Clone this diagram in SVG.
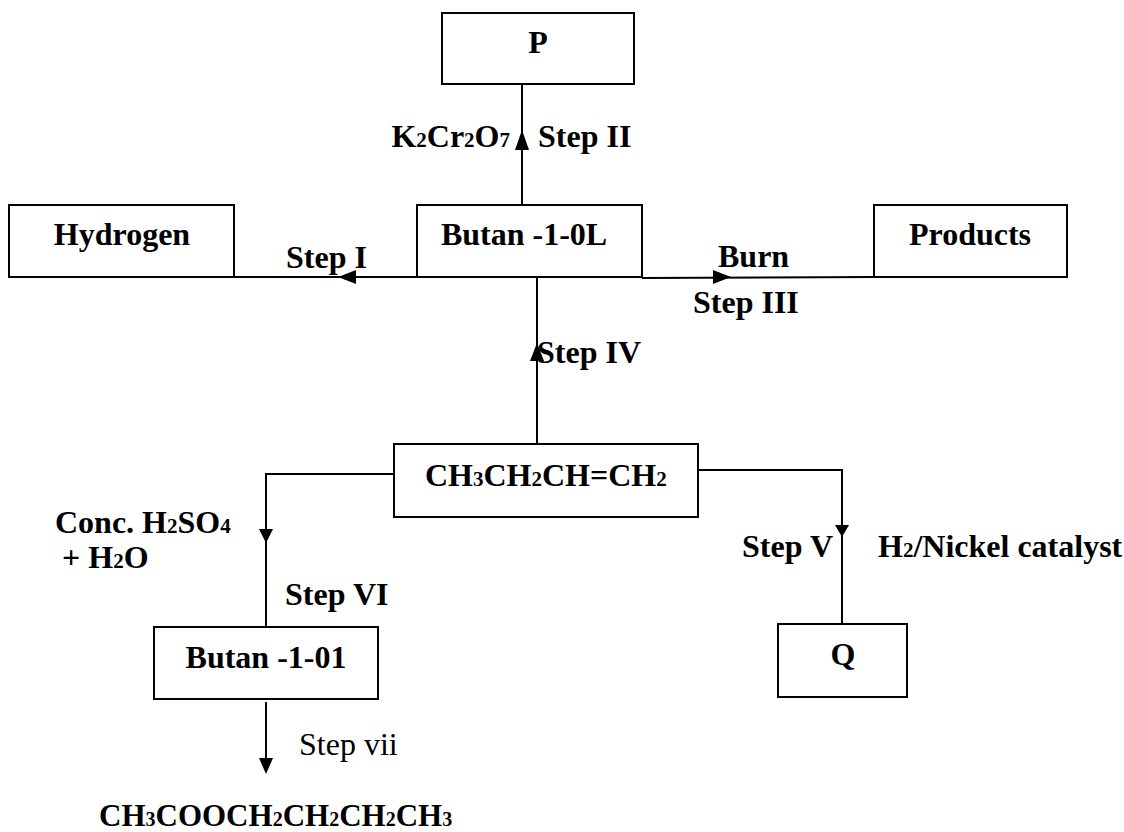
<svg xmlns="http://www.w3.org/2000/svg" width="1124" height="832" viewBox="0 0 1124 832">
<style>
.box{fill:#fff;stroke:#000;stroke-width:2}
.ln{fill:none;stroke:#000;stroke-width:2}
.ah{fill:#000;stroke:none}
text{font-family:"Liberation Serif","Times New Roman",serif;font-size:32px;font-weight:bold;fill:#000}
.n{font-weight:normal}
.s{font-size:21px}
.c{text-anchor:middle}
.e{text-anchor:end}
</style>
<rect width="1124" height="832" fill="#fff"/>
<g id="connectors">
<line class="ln" x1="522" y1="205" x2="522" y2="84"/>
<polygon class="ah" points="522,130 515,150 529,150"/>
<line class="ln" x1="417" y1="277" x2="234" y2="277"/>
<polygon class="ah" points="338,277 356,270 356,284"/>
<line class="ln" x1="642" y1="278" x2="875" y2="277"/>
<polygon class="ah" points="731,277 713,270 713,284"/>
<line class="ln" x1="537" y1="444" x2="537" y2="277"/>
<polygon class="ah" points="537,343 530,361 544,361"/>
<polyline class="ln" points="394,474 266,474 266,627"/>
<polygon class="ah" points="266,543 259,529 273,529"/>
<polyline class="ln" points="698,470 842,470 842,624"/>
<polygon class="ah" points="842,537 835,525 849,525"/>
<line class="ln" x1="266" y1="702" x2="266" y2="760"/>
<polygon class="ah" points="266,774 259,758 273,758"/>
</g>
<g id="labels">
<text class="e" x="510" y="147">K<tspan class="s">2</tspan>Cr<tspan class="s">2</tspan>O<tspan class="s">7</tspan></text>
<text x="538" y="147">Step II</text>
<text x="286" y="268">Step I</text>
<text x="718" y="267">Burn</text>
<text x="693" y="313">Step III</text>
<text x="537" y="363">Step IV</text>
<text x="55" y="533">Conc. H<tspan class="s">2</tspan>SO<tspan class="s">4</tspan></text>
<text x="62" y="568">+ H<tspan class="s">2</tspan>O</text>
<text class="e" x="833" y="557">Step V</text>
<text x="878" y="557">H<tspan class="s">2</tspan>/Nickel catalyst</text>
<text x="285" y="605">Step VI</text>
<text class="n" x="299" y="755">Step vii</text>
</g>
<g id="node-P">
<rect class="box" x="442" y="13" width="192" height="71"/>
<text class="c" x="538" y="53">P</text>
</g>
<g id="node-hydrogen">
<rect class="box" x="9" y="205" width="225" height="72"/>
<text class="c" x="122" y="245">Hydrogen</text>
</g>
<g id="node-butanol">
<rect class="box" x="417" y="205" width="225" height="72"/>
<text class="c" x="524" y="245">Butan -1-0L</text>
</g>
<g id="node-products">
<rect class="box" x="874" y="205" width="193" height="72"/>
<text class="c" x="970" y="245">Products</text>
</g>
<g id="node-butene">
<rect class="box" x="394" y="444" width="304" height="73"/>
<text x="425" y="486">CH<tspan class="s">3</tspan>CH<tspan class="s">2</tspan>CH=CH<tspan class="s">2</tspan></text>
</g>
<g id="node-butan101">
<rect class="box" x="154" y="627" width="224" height="72"/>
<text class="c" x="266" y="668">Butan -1-01</text>
</g>
<g id="node-Q">
<rect class="box" x="778" y="624" width="129" height="73"/>
<text class="c" x="843" y="665">Q</text>
</g>
<g id="node-ester">
<text x="99" y="826" style="font-size:31px">CH<tspan style="font-size:20px">3</tspan>COOCH<tspan style="font-size:20px">2</tspan>CH<tspan style="font-size:20px">2</tspan>CH<tspan style="font-size:20px">2</tspan>CH<tspan style="font-size:20px">3</tspan></text>
</g>
</svg>
